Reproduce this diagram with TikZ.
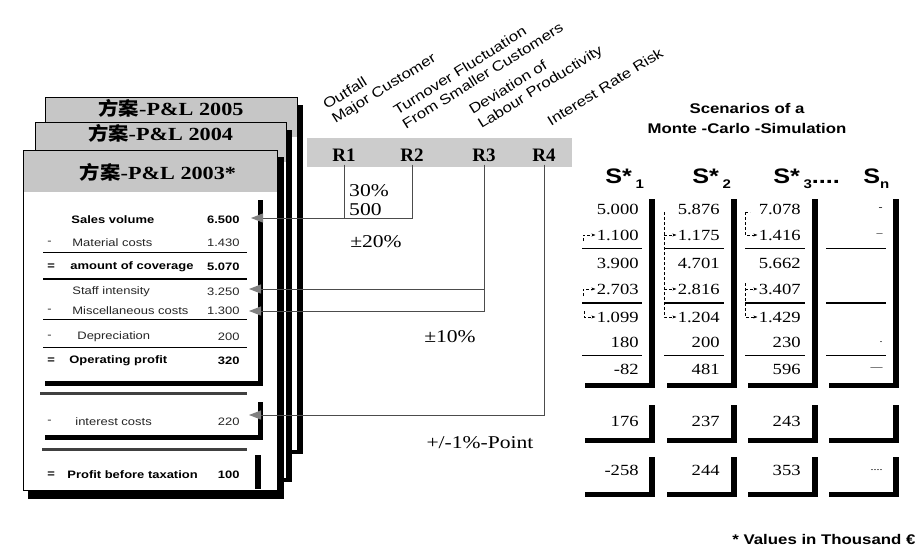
\documentclass[tikz,border=0pt]{standalone}
\usepackage{fontspec}
\setmainfont{Liberation Serif}[FakeStretch=1.2]
\setsansfont{Liberation Sans}[FakeStretch=1.2]
\newfontfamily\cjkfont{Noto Sans CJK SC}[FakeStretch=1.1]
\newfontfamily\rfont{Liberation Serif}
\usetikzlibrary{arrows.meta,calc}
\newcommand\scsub[1]{\raisebox{-5pt}{\fontsize{12.5}{13}\selectfont #1}}

\begin{document}
\begin{tikzpicture}[x=1pt, y=-1pt, >=Stealth, thick,
    rowtxt/.style={font=\sffamily\fontsize{10.8}{12}\selectfont, inner sep=0pt, text=black!85},
    rowbf/.style={font=\sffamily\bfseries\fontsize{10.8}{12}\selectfont, inner sep=0pt},
    num/.style={font=\fontsize{15.5}{16}\selectfont, inner sep=0pt, anchor=east},
    dashtxt/.style={font=\fontsize{10}{10}\selectfont, inner sep=0pt, anchor=east},
    note/.style={font=\fontsize{18}{19}\selectfont, inner sep=0pt},
    title/.style={font=\bfseries\fontsize{18.5}{20}\selectfont, inner sep=0pt},
    risk/.style={font=\sffamily\fontsize{14}{16.5}\selectfont, align=left, rotate=32, anchor=south west, inner sep=0pt},
    shead/.style={font=\sffamily\bfseries\fontsize{21}{22}\selectfont, inner sep=0pt, anchor=base west},
    link/.style={draw=black!70, line width=1pt, -{Triangle[length=12pt,width=9pt,color=black!50]}},
    dlink/.style={densely dashed, thin, -{Stealth[length=4pt,width=3pt]}, shorten >=1pt},
    head/.style={fill=gray!45},
    bar/.style={fill=black}]
    \useasboundingbox (0,0) rectangle (918,546);

    % 后面的两张卡片 (2005, 2004)
    \foreach \xl/\yt/\xr/\yb/\yr in {45/97/297/450/2005, 35/122/286/478/2004} {
        \fill[bar] (\xr,\yt+8) rectangle (\xr+6,\yb+4);
        \fill[bar] (\xl+6,\yb) rectangle (\xr+6,\yb+4);
        \filldraw[fill=white] (\xl,\yt) rectangle (\xr,\yb);
        \fill[head] (\xl,\yt) rectangle (\xr,\yt+40);
        \draw (\xl,\yt) rectangle (\xr,\yb);
        \node[title] (card\yr) at ({(\xl+\xr)/2},\yt+11) {{\cjkfont\bfseries 方案}-P\&L \yr};
    }

    % 最前面的卡片 2003
    \fill[bar] (277,157) rectangle (284,499);
    \fill[bar] (28,490) rectangle (284,499);
    \filldraw[fill=white] (23,150) rectangle (277,490);
    \fill[head] (23,150) rectangle (277,192);
    \draw (23,150) rectangle (277,490);
    \node[title] (card2003) at (158,172) {{\cjkfont\bfseries 方案}-P\&L 2003*};

    % 卡片内三个分组框的阴影
    \fill[bar] (258,200) rectangle (263,386);
    \fill[bar] (45,381) rectangle (263,386);
    \draw[line width=3pt, black!75] (40,393) -- (247,393);
    \fill[bar] (258,402) rectangle (263,440);
    \fill[bar] (45,435) rectangle (263,440);
    \draw[line width=3pt, black!75] (42,449) -- (247,449);
    \fill[bar] (255,455) rectangle (261,489);

    % 分隔线
    \draw[thin] (43,252) -- (247,252);
    \draw[line width=1.6pt] (43,279) -- (247,279);
    \draw[thin] (43,319) -- (247,319);
    \draw[thin] (43,347) -- (247,347);

    % 损益表各行
    \foreach \yy/\sg/\xx/\lab/\val/\st [count=\i] in {
        220/{}/71/Sales volume/6.500/rowbf,
        243/-/72/Material costs/1.430/rowtxt,
        267/=/70/amount of coverage/5.070/rowbf,
        292/{}/72/Staff intensity/3.250/rowtxt,
        311/-/72/Miscellaneous costs/1.300/rowtxt,
        337/-/77/Depreciation/200/rowtxt,
        361/=/69/Operating profit/320/rowbf,
        422/-/75/interest costs/220/rowtxt,
        475/=/67/Profit before taxation/100/rowbf} {
        \node[\st, anchor=west] (sg\i) at (47,\yy) {\sg};
        \node[\st, anchor=west] (lab\i) at (\xx,\yy) {\lab};
        \node[\st, anchor=east] (val\i) at (240,\yy) {\val};
    }

    % 风险因素条 R1--R4
    \fill[gray!40] (307,138) rectangle (572,167);
    \foreach \xx/\nm in {344/R1, 412/R2, 484/R3, 544/R4}
        \node[font=\rfont\bfseries\fontsize{19}{20}\selectfont, inner sep=3pt] (\nm) at (\xx,155) {\nm};

    % 斜着的风险说明
    \node[risk] (rk1) at (337,127) {Outfall\\Major Customer};
    \node[risk] (rk2) at (406,130) {Turnover Fluctuation\\From Smaller Customers};
    \node[risk] (rk3) at (483,132) {Deviation of\\Labour Productivity};
    \node[risk] (rk4) at (551,127) {Interest Rate Risk};

    % 箭头指向卡片中的数值
    \coordinate (tSales) at (251,218);
    \coordinate (tStaff) at (249,289);
    \coordinate (tMisc) at (249,311);
    \coordinate (tInt) at (249,415);
    \draw[link] (R1.south) |- (tSales);
    \draw[draw=black!70, line width=1pt] (R2.south) |- (R1.south |- tSales);
    \draw[link] (R3.south) |- (tStaff);
    \draw[link] (R3.south) |- (tMisc);
    \draw[link] (R4.south) |- (tInt);

    % 变动幅度
    \node[note, align=left] (pct) at (369,200) {30\%\\500};
    \node[note] (pm20) at (376,242) {±20\%};
    \node[note] (pm10) at (450,337) {±10\%};
    \node[note] (pm1) at (480,443) {+/-1\%-Point};

    % 蒙特卡洛模拟
    \node[font=\sffamily\bfseries\fontsize{14}{20}\selectfont, align=center, inner sep=0pt] (scen) at (747,118) {Scenarios of a\\Monte -Carlo -Simulation};
    \node[shead] (s1) at (605,183) {S*\,\scsub{1}};
    \node[shead] (s2) at (692,183) {S*\,\scsub{2}};
    \node[shead] (s3) at (773,183) {S*\,\scsub{3}....};
    \node[shead] (sn) at (863,183) {S\scsub{n}};

    % 每个情景的框
    \foreach \bx in {652,734,815,896} {
        \fill[bar] (\bx-3,199) rectangle (\bx+3,388);
        \fill[bar] (\bx-67,383) rectangle (\bx+3,388);
        \fill[bar] (\bx-3,405) rectangle (\bx+3,443);
        \fill[bar] (\bx-67,438) rectangle (\bx+3,443);
        \fill[bar] (\bx-3,457) rectangle (\bx+3,497);
        \fill[bar] (\bx-67,492) rectangle (\bx+3,497);
        \draw[thin] (\bx-70,248) -- (\bx-10,248);
        \draw[line width=1.4pt] (\bx-70,303) -- (\bx-10,303);
        \draw[thin] (\bx-70,355) -- (\bx-10,355);
    }

    % 各情景的数值
    \foreach \v/\yy [count=\r] in {5.000/209, 1.100/235, 3.900/263, 2.703/289, 1.099/317, 180/342, -82/369, 176/421, -258/470}
        \node[num] (a\r) at (639,\yy) {\v};
    \foreach \v/\yy [count=\r] in {5.876/209, 1.175/235, 4.701/263, 2.816/289, 1.204/317, 200/342, 481/369, 237/421, 244/470}
        \node[num] (b\r) at (720,\yy) {\v};
    \foreach \v/\yy [count=\r] in {7.078/209, 1.416/235, 5.662/263, 3.407/289, 1.429/317, 230/342, 596/369, 243/421, 353/470}
        \node[num] (c\r) at (801,\yy) {\v};
    \node[dashtxt] (d1) at (883,209) {-};
    \node[dashtxt] (d2) at (883,235) {--};
    \node[dashtxt] (d6) at (883,342) {.};
    \node[dashtxt] (d7) at (883,369) {---};
    \node[dashtxt] (d9) at (883,470) {....};

    % 虚线小箭头
    \coordinate (h2) at (583,241);
    \coordinate (h4) at (583,296);
    \coordinate (h5) at (584,311);
    \draw[dlink] (h2) |- (a2.west);
    \draw[dlink] (h4) |- (a4.west);
    \draw[dlink] (h5) |- (a5.west);
    \coordinate (bv) at (664,212);
    \draw[dlink] (bv) |- (b5.west);
    \draw[dlink] (bv |- b2) -- (b2.west);
    \draw[dlink] (bv |- b4) -- (b4.west);
    \coordinate (cv) at (745,212);
    \coordinate (cw) at (745,283);
    \draw[densely dashed, thin] (cv) -- ++(5,0);
    \draw[dlink] (cv) |- (c2.west);
    \draw[dlink] (cw) |- (c5.west);
    \draw[dlink] (cw |- c4) -- (c4.west);

    % 脚注
    \node[font=\sffamily\bfseries\fontsize{14}{15}\selectfont, anchor=base west, inner sep=0pt] (foot) at (732,544) {* Values in Thousand €};
\end{tikzpicture}
\end{document}
